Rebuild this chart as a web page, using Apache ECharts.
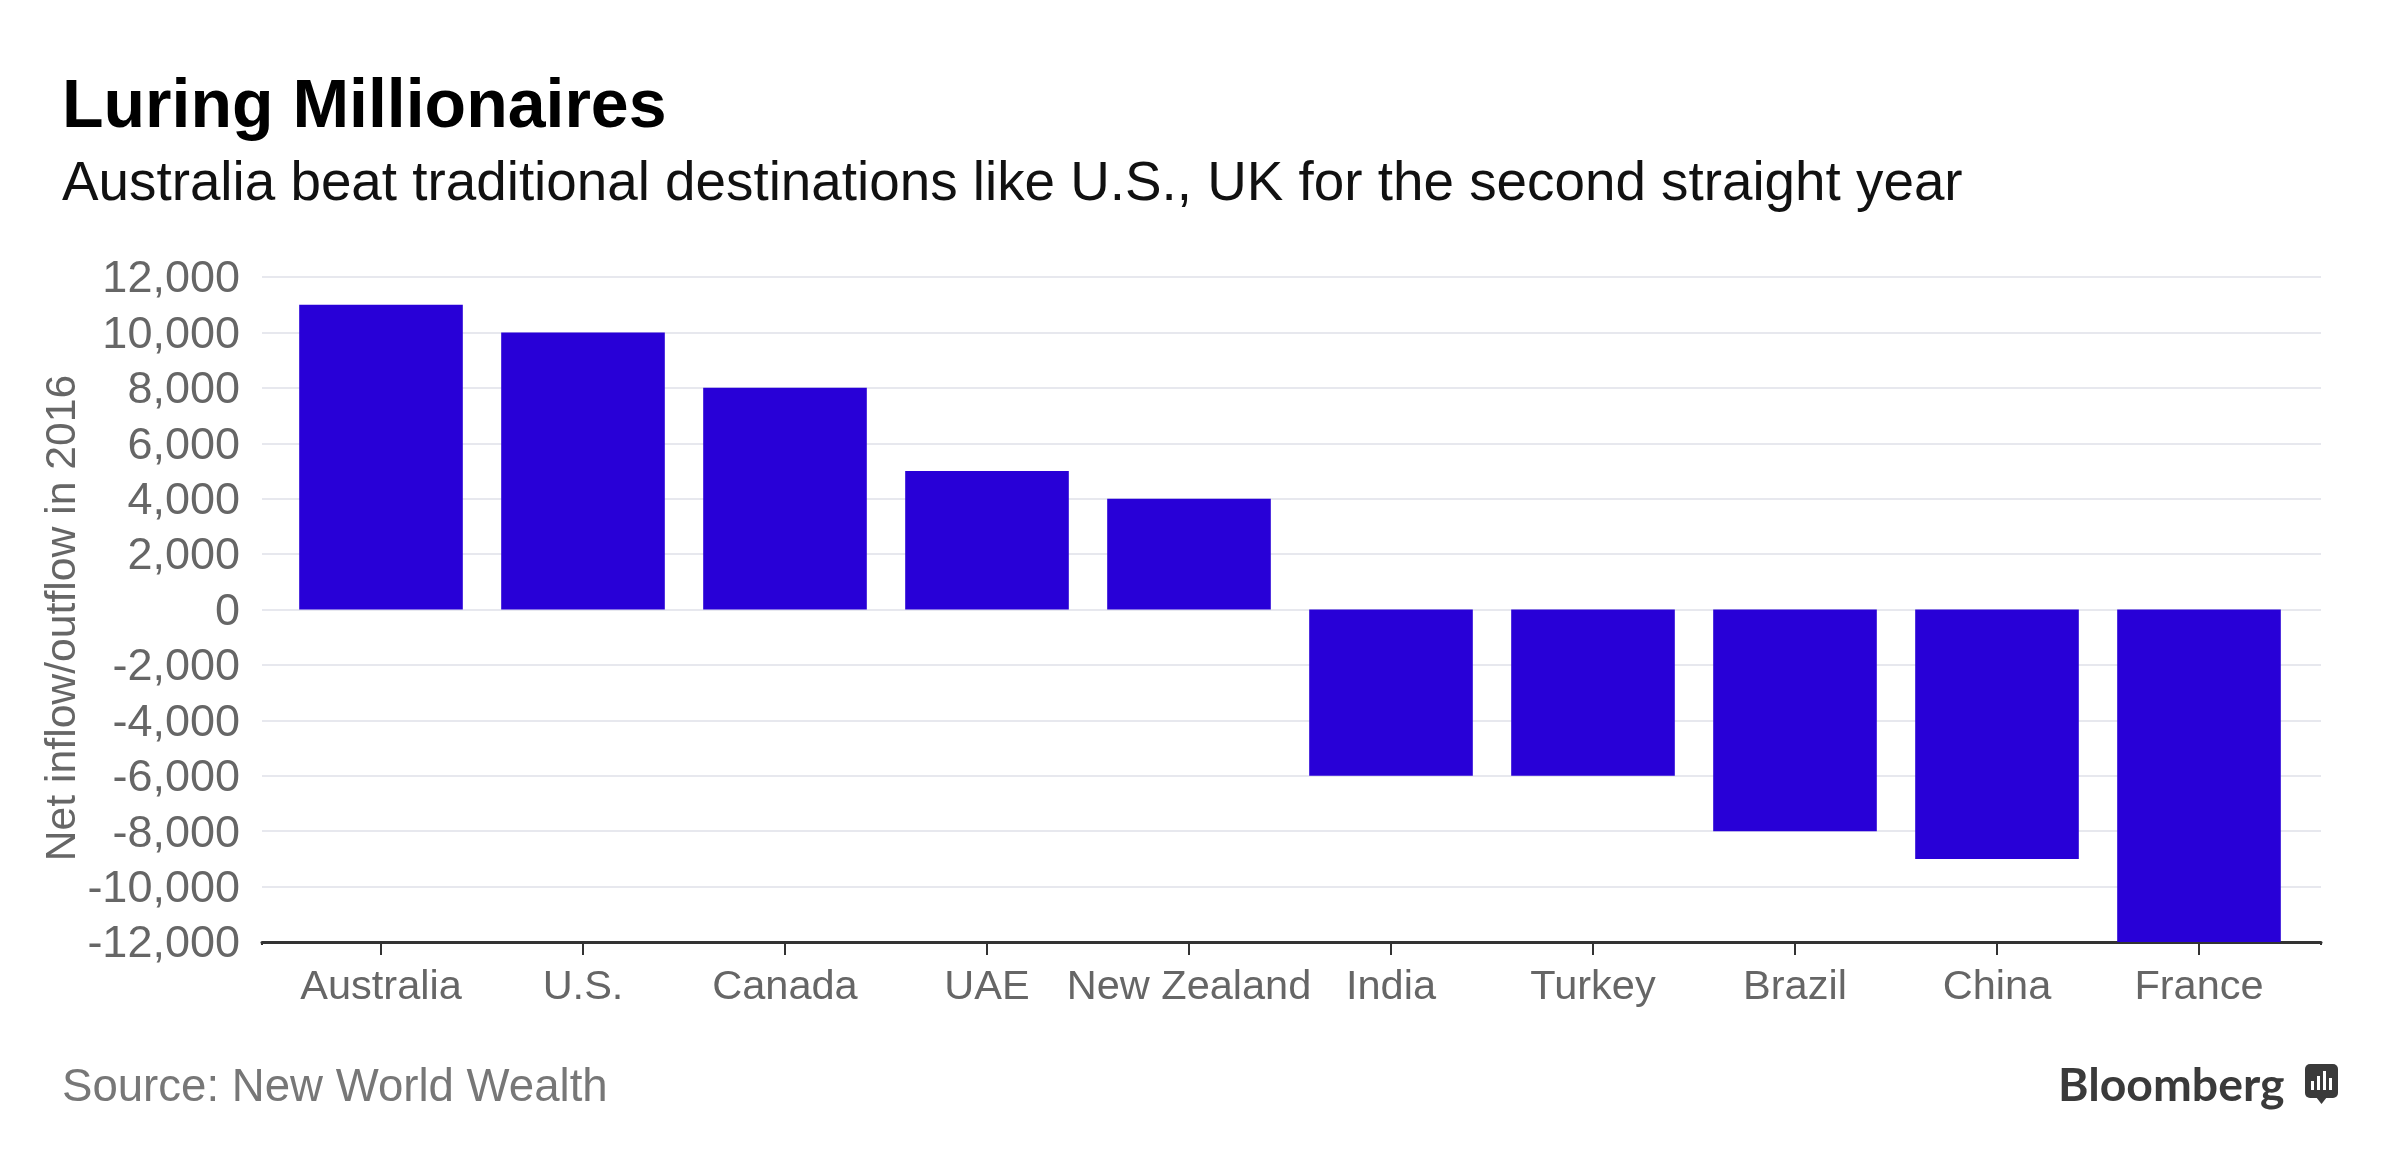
<!DOCTYPE html>
<html><head><meta charset="utf-8">
<style>html,body{margin:0;padding:0;background:#fff}#c{width:2400px;height:1172px}</style>
<script src="https://cdn.jsdelivr.net/npm/echarts@6/dist/echarts.min.js"></script>
</head><body><div id="c"></div>
<script>
const categories = ['Australia','U.S.','Canada','UAE','New Zealand','India','Turkey','Brazil','China','France'];
const netFlow = [11000,10000,8000,5000,4000,-6000,-6000,-8000,-9000,-12000];
const titleText = 'Luring Millionaires';
const subtitleText = 'Australia beat traditional destinations like U.S., UK for the second straight year';
const yAxisTitle = 'Net inflow/outflow in 2016';
const sourceText = 'Source: New World Wealth';
const brandText = 'Bloomberg';

const FONT = '"Liberation Sans", Helvetica, Arial, sans-serif';
const chart = echarts.init(document.getElementById('c'), null, {renderer:'canvas'});
const t = (text, left, top, size, color, weight, family) => ({
  text, left, top, padding:0,
  textStyle:{fontFamily:family||FONT, fontSize:size, color, fontWeight:weight||'normal', lineHeight:size*1.2}
});
chart.setOption({
  animation:false,
  backgroundColor:'#ffffff',
  title:[
    t(titleText,62,67,68,'#000000','bold'),
    t(subtitleText,62,152,54.8,'#111111'),
    t(sourceText,62,1061,45.6,'#777777'),
    t(brandText,2058,1058,46.4,'#3a3a3a','bold','Lato')
  ],
  grid:[
    {left:262,width:2059,top:277,height:665},
    {left:280,width:2020,top:277,height:665}
  ],
  xAxis:[
    {gridIndex:0,type:'value',min:0,max:1,interval:1,position:'bottom',
     axisLine:{show:true,onZero:false,lineStyle:{color:'#333333',width:3}},
     axisTick:{show:true,length:3,lineStyle:{color:'#333333',width:2}},
     axisLabel:{show:false},splitLine:{show:false}},
    {gridIndex:1,type:'category',data:categories,position:'bottom',
     axisLine:{show:false,onZero:false},
     axisTick:{show:true,alignWithLabel:true,length:13,lineStyle:{color:'#333333',width:2}},
     axisLabel:{interval:0,fontFamily:FONT,fontSize:41.5,color:'#666666',margin:25}}
  ],
  yAxis:[
    {gridIndex:0,type:'value',min:-12000,max:12000,interval:2000,
     axisLine:{show:false},axisTick:{show:false},
     axisLabel:{margin:22,
       formatter:v => '{a|' + v.toLocaleString('en-US') + '}',
       rich:{a:{fontFamily:FONT,fontSize:45,color:'#666666',padding:[6,0,0,0]}}},
     splitLine:{show:true,lineStyle:{color:'#e7e8ee',width:2}}},
    {gridIndex:1,type:'value',min:-12000,max:12000,interval:2000,show:false,
     splitLine:{show:false}}
  ],
  series:[{
    type:'bar',xAxisIndex:1,yAxisIndex:1,data:netFlow,barWidth:'81%',
    itemStyle:{color:'#2800d7'},z:5
  }],
  graphic:[
    {type:'text',rotation:Math.PI/2,x:63,y:618,z:10,
     style:{text:yAxisTitle,fontFamily:FONT,fontSize:42.7,fill:'#666666',align:'center',verticalAlign:'middle'}},
    {type:'group',x:2305,y:1064,z:10,children:[
      {type:'rect',shape:{x:0,y:0,width:33,height:34,r:5},style:{fill:'#3a3a3a'}},
      {type:'polygon',shape:{points:[[11,33],[22,33],[16.5,40]]},style:{fill:'#3a3a3a'}},
      {type:'rect',shape:{x:6,y:17,width:3,height:9},style:{fill:'#fff'}},
      {type:'rect',shape:{x:12,y:12,width:3,height:14},style:{fill:'#fff'}},
      {type:'rect',shape:{x:18,y:7,width:3,height:19},style:{fill:'#fff'}},
      {type:'rect',shape:{x:24,y:14,width:3,height:12},style:{fill:'#fff'}}
    ]}
  ]
});
</script></body></html>
